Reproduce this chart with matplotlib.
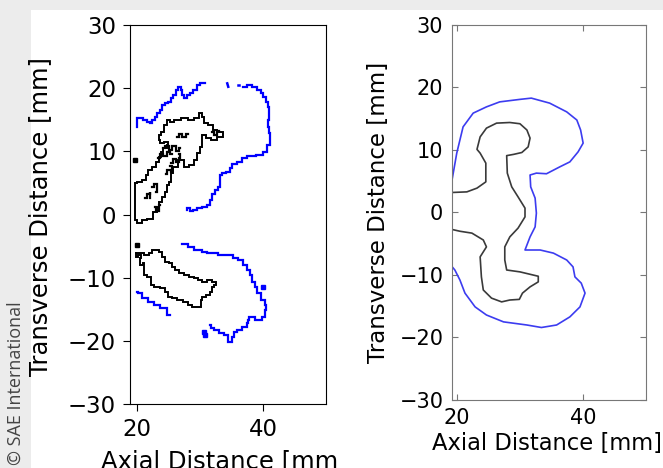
import matplotlib.pyplot as plt
from matplotlib.patches import Rectangle
from matplotlib.transforms import Bbox, TransformedBbox

# ---- left panel: raw (pixelated) contours ----
l_blue_top_x = [20.05, 20.05, 20.75, 21.27, 21.79, 22.33, 22.59, 23.13, 23.38, 23.92, 24.17, 24.71,
                25.24, 25.51, 26.03, 26.30, 26.83, 27.10, 27.35, 27.62, 28.14, 28.68, 29.21, 29.73,
                30.27, 30.79]
l_blue_top_y = [13.89, 15.22, 15.22, 14.95, 14.68, 14.43, 14.95, 15.47, 16.01, 16.53, 17.33, 17.59,
                17.85, 18.39, 18.91, 19.70, 20.22, 19.70, 18.91, 18.39, 18.91, 19.18, 19.70, 20.49,
                20.76, 20.76]
l_blue_right_x = [36.87, 37.94, 38.73, 39.52, 39.79, 40.32, 40.59, 41.11, 40.84, 41.11, 40.68, 40.84,
                  41.00, 41.11, 41.11, 40.32, 39.79, 37.94, 36.87, 36.35, 35.29, 35.03, 34.49, 33.70,
                  33.17, 33.29, 33.06, 32.65, 32.11, 31.59, 31.59, 30.79, 30.00, 29.21, 28.68, 28.14,
                  27.89]
l_blue_right_y = [20.22, 20.49, 20.22, 19.70, 19.18, 18.64, 17.85, 17.06, 16.27, 15.47, 14.95, 13.89,
                  12.85, 11.52, 11.00, 9.94, 9.41, 9.26, 8.89, 8.35, 7.99, 7.31, 6.77, 6.52,
                  6.25, 5.19, 4.40, 3.88, 3.24, 2.29, 1.50, 1.23, 0.98, 0.71, 0.60, 0.98,
                  0.71]
l_blue_bits_x = [[32.54, 32.60], [34.33, 34.49], [36.08, 36.20]]
l_blue_bits_y = [[22.07, 22.07], [20.76, 20.22], [20.49, 20.49]]
l_blue_low_x = [27.10, 27.89, 28.41, 29.73, 31.06, 31.32, 32.65, 33.17, 35.03, 35.56, 36.62, 37.14,
                37.67, 38.21, 38.46, 39.00, 39.25, 40.05, 40.48, 40.59, 40.05, 39.52, 39.25, 38.21,
                37.41, 37.94, 36.87, 36.35, 35.56, 35.29, 34.76, 34.24, 33.44, 32.65, 31.86, 31.59]
l_blue_low_y = [-4.67, -4.67, -5.10, -5.62, -5.89, -6.14, -6.14, -6.41, -6.41, -6.93, -7.20, -7.99,
                -8.78, -9.57, -10.63, -11.42, -12.47, -13.53, -14.32, -15.11, -16.17, -16.69, -16.69,
                -16.17, -16.74, -17.22, -17.75, -18.27, -18.54, -19.34, -20.13, -19.07, -18.80,
                -18.27, -18.01, -17.48]
l_blue_left_x = [19.95, 20.48, 21.27, 22.33, 23.13, 24.17, 25.24]
l_blue_left_y = [-12.22, -12.47, -13.26, -13.80, -14.32, -14.84, -15.90]
l_blue_dots_x = [40.05, 30.79, 30.60]
l_blue_dots_y = [-11.42, -19.07, -18.60]

l_black_top_x = [19.68, 19.68, 20.48, 21.00, 22.33, 22.86, 23.38, 23.65, 24.17, 24.71, 24.97, 25.24,
                 25.51, 26.03, 27.10, 27.89, 28.68, 29.48, 29.73, 30.27, 30.27, 30.52, 31.32, 32.11,
                 33.17, 34.24, 33.17, 32.38, 31.86, 30.79, 30.52, 30.27, 29.48, 28.68, 27.62, 26.30,
                 25.51, 24.97, 24.44, 24.17, 23.54, 23.38, 23.92, 24.71, 25.24, 24.44, 23.92, 23.65,
                 23.38, 22.59, 22.06, 21.54, 21.27, 20.48, 19.68]
l_black_top_y = [4.94, -0.87, -1.39, -0.87, -0.76, 0.44, 1.23, 2.03, 2.82, 3.61, 4.67, 5.19,
                 6.52, 7.56, 8.62, 7.56, 7.83, 8.62, 9.68, 10.73, 12.06, 12.58, 12.06, 11.79,
                 12.31, 12.58, 13.10, 13.37, 14.16, 14.43, 15.47, 16.01, 15.22, 14.95, 15.22, 14.95,
                 14.68, 14.95, 14.16, 13.10, 12.58, 11.79, 11.27, 11.52, 11.00, 10.47, 9.94, 9.15,
                 8.35, 7.56, 7.04, 6.25, 5.46, 5.19, 4.94]
l_black_inner_x = [[24.2, 24.8, 25.3, 25.9, 26.4, 26.9], [23.3, 23.9, 24.5, 25.0, 25.6],
                   [22.4, 22.9, 23.4, 23.0], [21.3, 21.8, 22.3, 22.0], [26.3, 26.9, 27.5, 28.1],
                   [31.9, 32.5, 33.0], [22.8, 23.3, 23.6], [25.4, 25.9, 26.5, 27.0, 26.6],
                   [24.6, 25.1, 25.7, 25.3]]
l_black_inner_y = [[10.5, 10.9, 10.2, 10.8, 10.1, 10.6], [8.9, 9.6, 9.2, 9.9, 9.5],
                   [4.3, 4.9, 4.4, 3.6], [2.6, 3.2, 3.6, 2.6], [12.3, 12.8, 12.2, 12.7],
                   [13.0, 12.6, 13.2], [1.2, 0.6, 1.5], [8.2, 8.8, 8.3, 8.9, 9.6],
                   [6.4, 7.1, 6.7, 7.7]]
l_black_dots_x = [19.70, 19.95]
l_black_dots_y = [8.6, -4.83]

l_black_low_x = [19.84, 19.95, 20.48, 20.75, 20.21, 20.75, 21.27, 21.00, 21.27, 22.06, 22.33, 23.13,
                 24.17, 24.71, 25.24, 26.03, 26.83, 27.89, 28.41, 29.21, 30.00, 30.27, 30.00, 30.52,
                 31.32, 31.86, 31.86, 32.65, 32.38, 31.59, 30.79, 30.00, 29.48, 28.68, 27.89, 27.10,
                 26.30, 25.76, 25.51, 24.71, 24.17, 23.92, 23.13, 22.59, 22.33, 21.54, 20.75, 20.21,
                 19.84]
l_black_low_y = [-6.14, -6.68, -6.41, -6.93, -7.47, -8.00, -7.72, -8.78, -9.57, -9.84, -11.16, -11.42,
                 -11.68, -12.22, -13.01, -13.26, -13.53, -13.80, -14.32, -14.59, -14.68, -14.32,
                 -13.53, -13.01, -12.74, -12.22, -11.42, -11.16, -10.63, -10.36, -10.63, -10.36,
                 -10.09, -9.84, -9.57, -9.30, -8.78, -8.26, -7.72, -7.47, -6.68, -5.89, -5.62,
                 -5.62, -6.14, -6.41, -6.14, -6.14, -6.14]

# ---- right panel: smoothed contours ----
r_blue_x = [19.2, 20.0, 21.0, 22.6, 24.7, 26.8, 30.0, 31.8, 34.7, 37.4, 39.0, 39.6, 40.0, 39.2,
            37.9, 36.3, 34.2, 32.6, 31.6, 31.7, 32.4, 32.6, 32.4, 31.6, 30.8, 33.2, 35.3, 37.4,
            38.4, 38.7, 39.7, 40.3, 39.5, 37.9, 35.8, 33.4, 31.1, 27.4, 24.7, 22.9, 21.3, 20.5,
            19.7, 19.2]
r_blue_y = [4.9, 9.5, 13.7, 15.9, 16.9, 17.7, 18.1, 18.3, 17.5, 16.1, 14.8, 13.2, 11.1, 9.7,
            8.1, 7.3, 6.2, 6.3, 6.0, 4.1, 2.3, -0.1, -2.3, -3.9, -6.0, -6.0, -6.5, -7.6,
            -8.7, -10.3, -11.3, -12.9, -15.1, -16.7, -18.0, -18.4, -18.0, -17.5, -16.4, -15.1,
            -12.9, -10.8, -9.2, -8.6]
r_black_x = [19.2, 21.6, 23.2, 24.6, 24.6, 23.7, 23.2, 23.7, 24.7, 26.3, 28.4, 30.0, 31.1, 31.6,
             31.3, 30.3, 29.0, 27.9, 28.0, 28.7, 29.7, 30.8, 30.8, 29.7, 28.4, 27.6, 27.6, 27.9,
             30.0, 32.9, 32.9, 31.6, 30.4, 29.9, 28.4, 27.1, 25.5, 24.2, 23.9, 23.7, 24.7, 24.2,
             22.4, 20.5, 19.2]
r_black_y = [3.2, 3.3, 3.9, 4.9, 7.9, 9.5, 10.1, 12.1, 13.5, 14.3, 14.4, 14.2, 13.2, 11.9,
             10.5, 9.6, 9.3, 9.1, 6.3, 4.1, 2.5, 0.7, -0.7, -2.5, -3.9, -5.5, -7.6, -9.2,
             -9.5, -10.2, -11.1, -11.9, -12.9, -13.9, -14.0, -14.3, -13.7, -12.4, -10.3, -7.1,
             -5.5, -4.4, -3.3, -3.0, -2.7]

x_ticks = [20, 40]
y_ticks = [-30, -20, -10, 0, 10, 20, 30]
x_label = 'Axial Distance [mm]'
y_label = 'Transverse Distance [mm]'

fig = plt.figure(figsize=(6.63, 4.68), dpi=100, facecolor='#ececec')
fig.patches.append(Rectangle((31 / 663, 0), 1, 1 - 10 / 468, transform=fig.transFigure,
                             facecolor='white', edgecolor='none', zorder=-1))

ax1 = fig.add_axes([130 / 663, 1 - 404 / 468, 196 / 663, 379 / 468])
ax2 = fig.add_axes([451.7 / 663, 1 - 400 / 468, 194 / 663, 375 / 468])

blue1 = '#0000ff'
steps = dict(drawstyle='steps-mid', solid_joinstyle='miter')
for xs, ys in [(l_blue_top_x, l_blue_top_y), (l_blue_right_x, l_blue_right_y),
               (l_blue_low_x, l_blue_low_y), (l_blue_left_x, l_blue_left_y)]:
    ax1.plot(xs, ys, color=blue1, lw=1.6, **steps)
for xs, ys in zip(l_blue_bits_x, l_blue_bits_y):
    ax1.plot(xs, ys, color=blue1, lw=1.8)
ax1.plot(l_blue_dots_x, l_blue_dots_y, 's', color=blue1, ms=2.5)

for xs, ys in [(l_black_top_x, l_black_top_y), (l_black_low_x, l_black_low_y)]:
    ax1.plot(xs, ys, color='black', lw=1.4, **steps)
for xs, ys in zip(l_black_inner_x, l_black_inner_y):
    ax1.plot(xs, ys, color='black', lw=1.6, **steps)
ax1.plot(l_black_dots_x, l_black_dots_y, 's', color='black', ms=2.5)

ax2.plot(r_blue_x, r_blue_y, color='#3c3cf0', lw=1.2)
ax2.plot(r_black_x, r_black_y, color='#3a3a3a', lw=1.2)

ax1.set_xlim(18.9, 50)
ax2.set_xlim(19.2, 49.9)
for ax in (ax1, ax2):
    ax.set_ylim(-30, 30)
    ax.set_xticks(x_ticks)
    ax.set_yticks(y_ticks)
    ax.set_facecolor('white')

ax1.tick_params(labelsize=16.5, length=5, pad=5, color='black')
for s in ax1.spines.values():
    s.set_color('black')
ax1.set_xlabel(x_label, fontsize=17.5)
ax1.set_ylabel(y_label, fontsize=17.5)
ax1.xaxis.set_label_coords(0.48, -0.118)
ax1.yaxis.set_label_coords(-0.395, 0.496)
# the left image is cropped in the reference, so its x label is cut at the edge
lab = ax1.xaxis.label
lab.set_clip_on(True)
lab.set_clip_box(TransformedBbox(Bbox([[0, 0], [338 / 663, 1]]), fig.transFigure))

ax2.tick_params(labelsize=15, direction='in', length=4, pad=6, color='#777777',
                top=True, right=True)
for s in ax2.spines.values():
    s.set_color('#777777')
ax2.set_xlabel(x_label, fontsize=16.3)
ax2.set_ylabel(y_label, fontsize=16.5)
ax2.xaxis.set_label_coords(0.49, -0.085)
ax2.yaxis.set_label_coords(-0.318, 0.499)

fig.text(16 / 663, 3 / 468, '\u00a9 SAE International', rotation=90, ha='center', va='bottom',
         fontsize=13, color='#444444', family='Open Sans')

fig.savefig('out.png', dpi=100, facecolor=fig.get_facecolor())
